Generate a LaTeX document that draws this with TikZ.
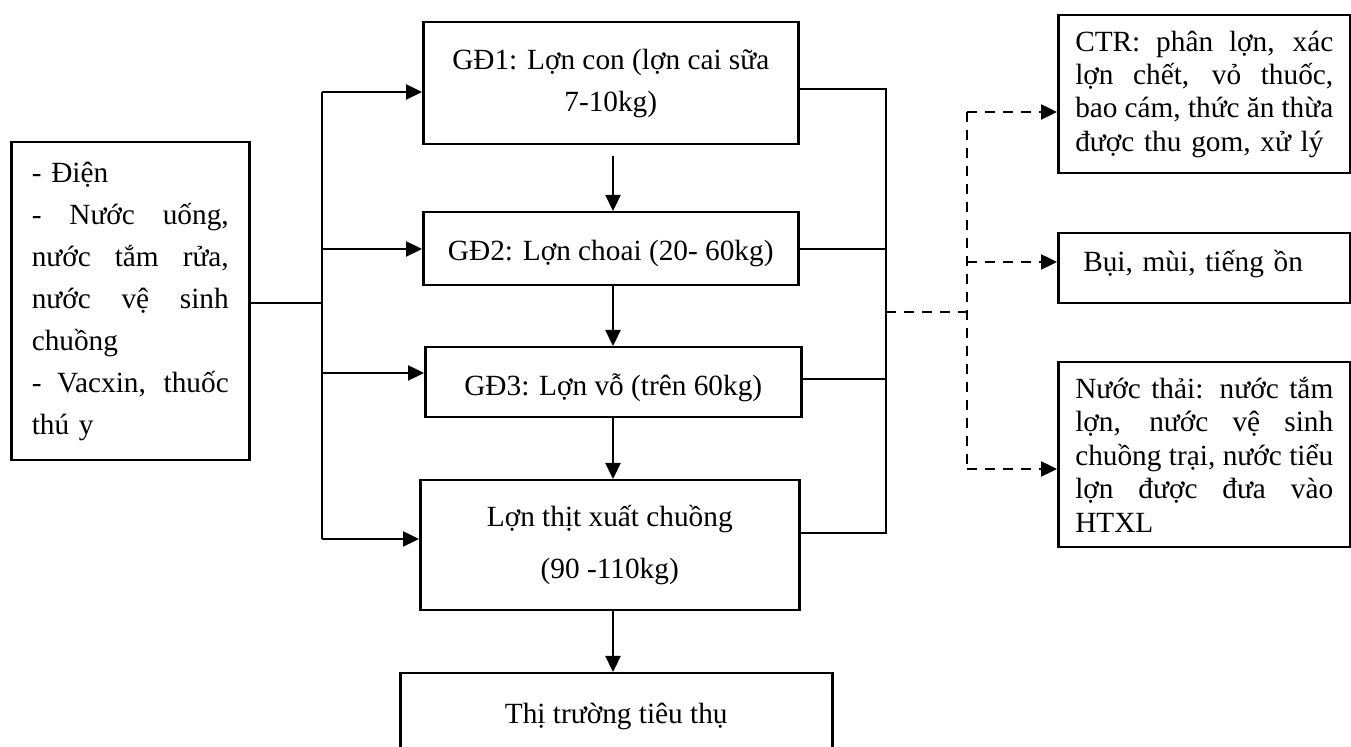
\documentclass[tikz,border=0pt]{standalone}
\usepackage{fontspec}
\setmainfont{Liberation Serif}
\usetikzlibrary{arrows.meta}
% justified lines of fixed width for the side boxes
% (align=left fixes the word spaces, so stretchable spaces are restored here)
\newcommand\jl[1]{\makebox[98.5pt][s]{\spaceskip=0pt\xspaceskip=0pt #1}}
\newcommand\jr[1]{\makebox[129pt][s]{\spaceskip=0pt\xspaceskip=0pt #1}}
\tikzset{
  box/.style={draw, line width=1.25pt, inner sep=0pt, anchor=north west, align=center},
  txt/.style={font=\fontsize{14.65pt}{21pt}\selectfont},
  txtr/.style={font=\fontsize{14.65pt}{16.7pt}\selectfont},
  line/.style={line width=1.2pt},
  dline/.style={line width=1.2pt, dash pattern=on 5pt off 4pt},
  arr/.style={line width=1.2pt, -{Triangle[length=8pt,width=7.5pt]}},
  darr/.style={arr, dash pattern=on 5pt off 4pt},
}
\begin{document}
\begin{tikzpicture}[x=0.5pt,y=-0.5pt]
\useasboundingbox (0,0) rectangle (1351,747);
\clip (0,0) rectangle (1351,747);

% inputs
\node[box, txt, minimum width=119pt, minimum height=159pt, text width=98.5pt, align=left] (inp) at (10,141)
  {- Điện\\
   \jl{- Nước uống,}\\
   \jl{nước tắm rửa,}\\
   \jl{nước vệ sinh}\\
   chuồng\\
   \jl{- Vacxin, thuốc}\\
   thú y};

% rearing stages
\node[box, txt, minimum width=187.5pt, minimum height=61pt] (gd1) at (422,21)
  {GĐ1: Lợn con (lợn cai sữa\\7-10kg)};
\node[box, txt, minimum width=187.5pt, minimum height=36.5pt, text height=14.5pt, text depth=3pt] (gd2) at (422,211)
  {GĐ2: Lợn choai (20- 60kg)};
\node[box, txt, minimum width=188pt, minimum height=35pt, text height=16pt, text depth=3pt] (gd3) at (424,346)
  {GĐ3: Lợn vỗ (trên 60kg)};
\node[box, font=\fontsize{14.65pt}{26pt}\selectfont, minimum width=189.5pt, minimum height=65pt] (thit) at (419,479)
  {Lợn thịt xuất chuồng\\(90 -110kg)};
\node[box, txt, minimum width=216pt, minimum height=43pt, text height=10pt, text depth=3pt] (tt) at (399,672)
  {Thị trường tiêu thụ};

% outputs
\node[box, txtr, minimum width=146pt, minimum height=79pt, text width=129pt, align=left] (ctr) at (1057,14)
  {\jr{CTR: phân lợn, xác}\\
   \jr{lợn chết, vỏ thuốc,}\\
   \jr{bao cám, thức ăn thừa}\\
   được thu gom, xử lý};
\node[box, txtr, minimum width=146pt, minimum height=35pt, text width=129pt, align=left, text height=10pt, text depth=7pt] (bui) at (1057,232)
  {\hspace*{4pt}Bụi, mùi, tiếng ồn};
\node[box, txtr, minimum width=146pt, minimum height=92.5pt, text width=129pt, align=left] (nt) at (1057,361)
  {\jr{Nước thải: nước tắm}\\
   \jr{lợn, nước vệ sinh}\\
   \jr{chuồng trại, nước tiểu}\\
   \jr{lợn được đưa vào}\\
   HTXL};

% left distribution bus
\coordinate (lm) at (322,303);
\coordinate (l1) at (322,92);
\coordinate (l2) at (322,249);
\coordinate (l3) at (322,373);
\coordinate (l4) at (322,539);
\draw[line] (inp.east |- lm) -- (lm);
\draw[line] (l1) -- (l4);
\draw[arr] (l1) -- (l1 -| gd1.west);
\draw[arr] (l2) -- (l2 -| gd2.west);
\draw[arr] (l3) -- (l3 -| gd3.west);
\draw[arr] (l4) -- (l4 -| thit.west);

% main flow
\coordinate (sp) at (613,0);
\draw[arr, shorten <=5.5pt] (gd1.south -| sp) -- (gd2.north -| sp);
\draw[arr] (gd2.south -| sp) -- (gd3.north -| sp);
\draw[arr] (gd3.south -| sp) -- (thit.north -| sp);
\draw[arr] (thit.south -| sp) -- (tt.north -| sp);

% right collecting bus
\coordinate (r1) at (886,89);
\coordinate (r2) at (886,249);
\coordinate (r3) at (886,379);
\coordinate (r4) at (886,533);
\coordinate (rm) at (886,312);
\draw[line] (gd1.east |- r1) -- (r1) -- (r4) -- (thit.east |- r4);
\draw[line] (gd2.east |- r2) -- (r2);
\draw[line] (gd3.east |- r3) -- (r3);

% waste streams
\coordinate (d0) at (967,312);
\coordinate (d1) at (967,112);
\coordinate (d2) at (967,262);
\coordinate (d3) at (967,469);
\draw[dline] (rm) -- (d0);
\draw[dline] (d1) -- (d3);
\draw[darr] (d1) -- (d1 -| ctr.west);
\draw[darr] (d2) -- (d2 -| bui.west);
\draw[darr] (d3) -- (d3 -| nt.west);
\end{tikzpicture}
\end{document}
